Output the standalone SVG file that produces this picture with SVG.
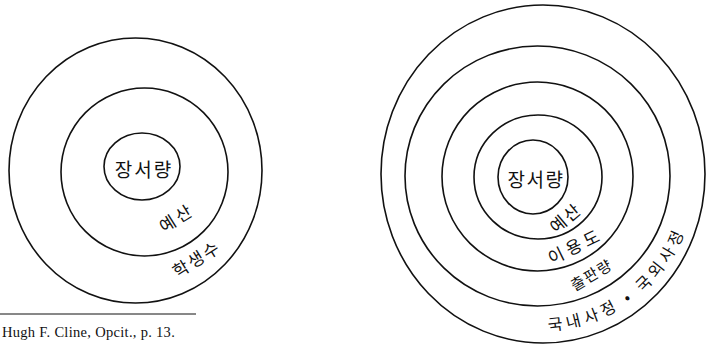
<svg xmlns="http://www.w3.org/2000/svg" width="707" height="345" viewBox="0 0 707 345">
<style>
  .ring { fill: none; stroke: #111; stroke-width: 1.6; }
  .ko { font-family: "Noto Sans CJK KR", "Noto Sans", sans-serif; fill: #111; text-anchor: middle; dominant-baseline: central; }
  .arc { font-family: "Noto Sans CJK KR", "Noto Sans", sans-serif; fill: #111; text-anchor: start; }
  .ref { font-family: "Liberation Serif", "DejaVu Serif", serif; font-size: 14.5px; fill: #111; letter-spacing: 0.3px; }
</style>
<defs>
  <path id="arcOuter" d="M 526.5 330.4 A 155 155 0 0 0 695 176"/>
</defs>
<rect width="707" height="345" fill="#fff"/>

<g id="left-diagram">
  <g id="left-ring-students">
    <ellipse class="ring" cx="135.5" cy="170.5" rx="126.5" ry="132.5"/>
    <text class="ko" font-size="17" letter-spacing="2" transform="translate(196 258) rotate(-32)">학생수</text>
  </g>
  <g id="left-ring-budget">
    <ellipse class="ring" cx="144.5" cy="172" rx="83.5" ry="84"/>
    <text class="ko" font-size="17" letter-spacing="3" transform="translate(176 217) rotate(-32)">예산</text>
  </g>
  <g id="left-core">
    <ellipse class="ring" cx="142" cy="166.5" rx="38" ry="33.5"/>
    <text class="ko" font-size="19" letter-spacing="2" x="144" y="168">장서량</text>
  </g>
</g>

<g id="footnote">
  <line x1="0" y1="314" x2="196" y2="314" stroke="#111" stroke-width="1"/>
  <text class="ref" x="2" y="337">Hugh F. Cline, Opcit., p. 13.</text>
</g>

<g id="right-diagram">
  <g id="right-ring-national">
    <ellipse class="ring" cx="543" cy="174" rx="162" ry="169"/>
    <text class="arc" font-size="16" letter-spacing="4.5"><textPath href="#arcOuter" startOffset="22">국내사정 • 국외사정</textPath></text>
  </g>
  <g id="right-ring-publishing">
    <ellipse class="ring" cx="537.5" cy="176" rx="132.5" ry="130"/>
    <text class="ko" font-size="15" letter-spacing="1.5" transform="translate(591 274) rotate(-31)">출판량</text>
  </g>
  <g id="right-ring-usage">
    <ellipse class="ring" cx="537.5" cy="176.5" rx="95.5" ry="94.5"/>
    <text class="ko" font-size="17" letter-spacing="4" transform="translate(575 245) rotate(-26)">이용도</text>
  </g>
  <g id="right-ring-budget">
    <ellipse class="ring" cx="538" cy="177" rx="64" ry="62"/>
    <text class="ko" font-size="17" letter-spacing="2" transform="translate(565 217) rotate(-40)">예산</text>
  </g>
  <g id="right-core">
    <ellipse class="ring" cx="533" cy="177" rx="35" ry="37"/>
    <text class="ko" font-size="19" letter-spacing="1.5" x="536" y="178">장서량</text>
  </g>
</g>
</svg>
